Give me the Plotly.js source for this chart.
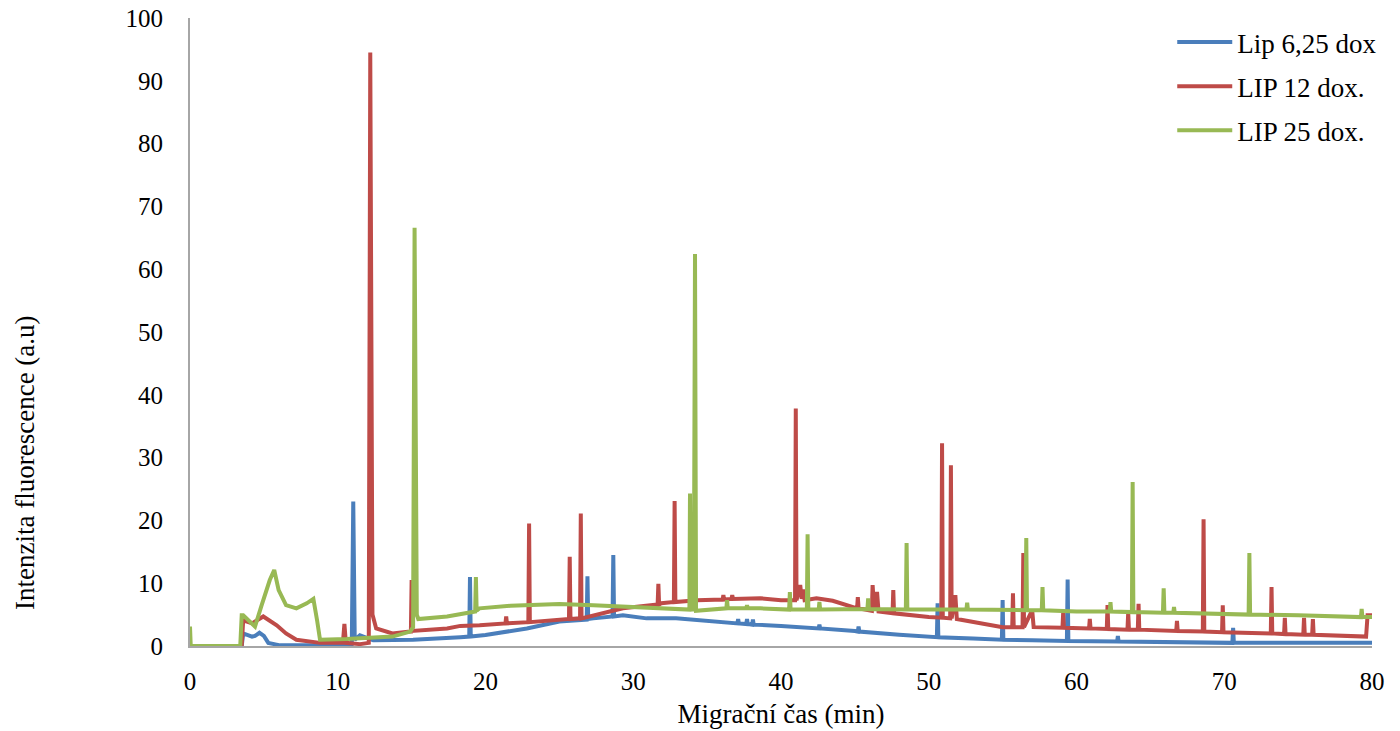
<!DOCTYPE html>
<html>
<head>
<meta charset="utf-8">
<script src="https://cdn.plot.ly/plotly-3.0.1.min.js"></script>
<style>html,body{margin:0;padding:0;background:#fff;}#chart{width:1400px;height:731px;}</style>
</head>
<body>
<div id="chart"></div>
<script>
// Series names
const seriesNames = ["Lip 6,25 dox", "LIP 12 dox.", "LIP 25 dox."];
const seriesColors = ["#4A7EBB", "#BE4B48", "#98B954"];

// Lip 6,25 dox  (migration time, intensity)
const blueX = [0,3.5,3.6,4.2,4.4,4.7,5.0,5.3,6.1,10.6,10.95,11.05,11.15,11.5,12.4,15.1,18.3,18.9,18.95,19.0,20,22.8,25.0,26.85,26.9,26.95,27.3,28.6,28.65,28.7,29.3,30.9,32.9,34.0,36.3,37.05,37.1,37.15,37.65,37.7,37.75,38.05,38.1,38.15,40,42.55,42.6,42.65,45,45.2,45.25,45.3,48,50,50.55,50.6,50.65,53,54.95,55.0,55.05,57,59.35,59.4,59.45,62.75,62.8,62.85,65,70.55,70.6,70.65,75,80];
const blueY = [0,0,2.0,1.5,1.6,2.1,1.6,0.5,0.1,0.1,0.3,23.0,1.0,1.7,0.9,1.0,1.4,1.5,11.0,1.5,1.75,2.8,3.9,4.2,11.1,4.3,4.4,4.7,14.5,4.7,4.9,4.4,4.4,4.2,3.7,3.6,4.3,3.6,3.5,4.3,3.5,3.4,4.2,3.4,3.2,2.8,3.4,2.8,2.4,2.3,3.1,2.3,1.8,1.5,1.4,6.8,1.4,1.2,1.0,7.3,1.0,0.9,0.8,10.6,0.8,0.7,1.6,0.7,0.6,0.5,2.9,0.5,0.5,0.5];

// LIP 12 dox.
const redX = [0,3.5,3.6,4.2,4.96,5.4,5.87,6.5,7.2,8.8,10.35,10.45,10.55,11.5,12.1,12.2,12.35,12.6,13.7,14.9,14.95,15.0,15.05,17.4,18.3,19.6,21.35,21.4,21.45,22.9,22.95,23.0,25.0,25.65,25.7,25.75,26.4,26.45,26.5,27.3,29.3,31.65,31.7,31.75,31.9,32.75,32.8,32.85,34.3,36.05,36.1,36.15,36.65,36.7,36.75,38.6,40,40.95,41.0,41.05,41.3,41.4,41.5,41.6,42.4,43.5,45,45.15,45.2,45.25,46.15,46.2,46.3,46.5,46.6,47.55,47.6,47.65,50,50.85,50.9,50.95,51.45,51.5,51.55,51.8,51.9,55,55.65,55.7,55.75,56.35,56.4,56.45,57.0,57.1,59.05,59.1,59.15,60.85,60.9,60.95,62.05,62.1,62.15,63.45,63.5,63.55,64.15,64.2,64.25,66.75,66.8,66.85,68.55,68.6,68.65,69.85,69.9,69.95,73.15,73.2,73.25,74.05,74.1,74.15,75.35,75.4,75.45,75.95,76.0,76.05,79.6,79.7,80];
const redY = [0,0,4.1,3.6,4.7,4.1,3.3,2.0,1.0,0.5,0.5,3.5,0.5,0.3,0.5,94.5,5.0,2.8,2.0,2.3,2.3,10.5,2.4,2.8,3.2,3.3,3.6,4.7,3.6,3.8,19.5,3.8,4.2,4.3,14.2,4.3,4.4,21.1,4.4,4.9,6.0,6.6,9.9,6.6,6.8,7.0,23.1,7.0,7.3,7.4,8.1,7.4,7.5,8.1,7.5,7.6,7.3,7.3,37.8,7.3,9.7,7.5,9.0,7.3,7.6,7.2,6.2,6.0,7.8,6.0,5.6,9.7,6.0,8.6,5.5,5.2,8.9,5.2,4.6,4.5,32.3,4.5,4.4,28.8,4.4,8.1,4.3,3.0,3.0,8.4,3.0,3.0,14.8,3.0,5.7,3.0,2.9,5.3,2.9,2.8,4.3,2.8,2.7,6.5,2.7,2.6,5.3,2.6,2.6,6.7,2.6,2.4,4.0,2.4,2.3,20.2,2.3,2.2,6.5,2.2,2.0,9.4,2.0,1.9,4.5,1.9,1.8,4.5,1.8,1.8,4.3,1.8,1.5,4.9,4.9];

// LIP 25 dox.
const greenX = [0,0.05,3.4,3.5,3.6,4.4,4.85,5.4,5.7,6.0,6.5,7.2,7.9,8.35,8.6,8.8,10.6,13.7,14.9,15.1,15.2,15.35,15.45,17.4,19.3,19.35,19.4,19.6,21.7,25.0,27.3,29.6,31.9,33.8,33.84,33.9,34.1,34.18,34.25,36.3,36.35,36.4,37.65,37.7,37.75,38.6,40.55,40.6,40.65,41.75,41.8,41.85,42.55,42.6,42.65,45,45.85,45.9,45.95,48.45,48.5,48.55,50,52.55,52.6,52.65,56.55,56.6,56.65,57.65,57.7,57.75,60,62.25,62.3,62.35,63.75,63.8,63.85,65.85,65.9,65.95,66.55,66.6,66.65,68.8,71.65,71.7,71.75,75,79.25,79.3,79.35,80];
const greenY = [3.1,0,0,4.9,4.9,3.1,6.5,10.5,12.1,8.9,6.5,6.0,6.8,7.5,4.1,1.0,1.1,1.5,2.3,3.0,66.6,5.0,4.3,4.7,5.5,11.0,5.6,6.0,6.4,6.7,6.5,6.2,6.0,5.8,24.3,5.8,5.8,62.4,5.6,6.0,7.3,6.0,6.0,6.5,6.0,6.0,5.8,8.6,5.8,5.8,17.8,5.8,5.8,7.0,5.8,5.8,5.9,7.6,5.9,5.8,16.4,5.8,5.8,5.8,6.9,5.8,5.7,17.2,5.7,5.7,9.4,5.7,5.5,5.5,7.0,5.5,5.4,26.1,5.4,5.3,9.2,5.3,5.3,6.2,5.3,5.2,5.0,14.8,5.0,4.9,4.6,5.9,4.6,4.6];

// Axis ticks
const xTicks = [0,10,20,30,40,50,60,70,80];
const yTicks = [0,10,20,30,40,50,60,70,80,90,100];

const xs = [blueX, redX, greenX];
const ys = [blueY, redY, greenY];
const traces = seriesNames.map((n,i)=>({
  x: xs[i], y: ys[i], name: n, type: 'scatter', mode: 'lines',
  legendgroup: 'g'+i,
  line: {color: seriesColors[i], width: 4, shape: 'linear'},
  hoverinfo: 'skip'
}));

const fontFam = '"Liberation Serif", "Times New Roman", serif';
const layout = {
  width: 1400, height: 731,
  margin: {l: 190, r: 28, t: 18, b: 85},
  paper_bgcolor: '#fff', plot_bgcolor: '#fff',
  font: {family: fontFam, size: 25, color: '#000'},
  showlegend: true,
  legend: {x: 0.831, y: 1.0, xanchor: 'left', yanchor: 'top', traceorder: 'grouped', tracegroupgap: 6,
           itemwidth: 55,
           font: {family: fontFam, size: 27, color: '#000'}, bgcolor: 'rgba(0,0,0,0)'},
  xaxis: {
    range: [0, 80], tickvals: xTicks, ticktext: xTicks.map(String),
    showline: true, linecolor: '#A6A6A6', linewidth: 2, showgrid: false, zeroline: false,
    ticks: '', ticklabelstandoff: 12, automargin: false,
    tickfont: {family: fontFam, size: 25, color: '#000'},
    title: {text: 'Migrační čas (min)', standoff: 10, font: {family: fontFam, size: 27, color: '#000'}}
  },
  yaxis: {
    range: [0, 100], tickvals: yTicks, ticktext: yTicks.map(String),
    showline: true, linecolor: '#A6A6A6', linewidth: 2, showgrid: false, zeroline: false,
    ticks: '', ticklabelstandoff: 20, automargin: false,
    tickfont: {family: fontFam, size: 25, color: '#000'}
  },
  annotations: [{
    text: 'Intenzita fluorescence (a.u)', xref: 'paper', yref: 'paper',
    x: -0.1396, y: 0.293, xanchor: 'center', yanchor: 'middle', textangle: -90,
    showarrow: false, font: {family: fontFam, size: 27, color: '#000'}
  }]
};
Plotly.newPlot('chart', traces, layout, {displayModeBar: false, staticPlot: true});
</script>
</body>
</html>
